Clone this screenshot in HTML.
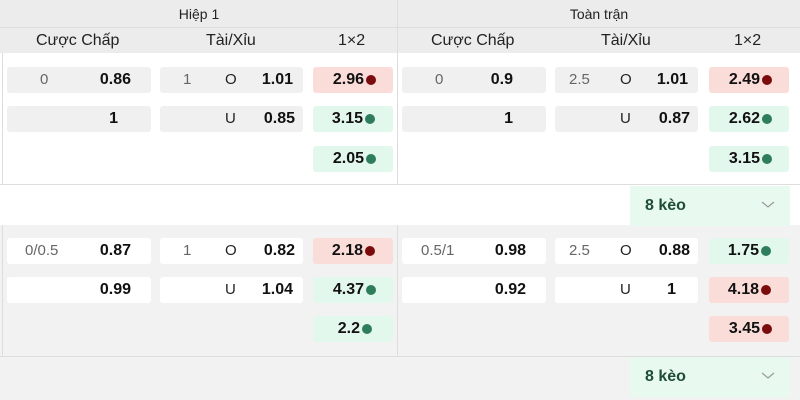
<!DOCTYPE html><html><head><meta charset="utf-8"><style>
body{margin:0;width:800px;height:400px;position:relative;background:#fff;font-family:"Liberation Sans","DejaVu Sans",sans-serif;overflow:hidden}
div{position:absolute;box-sizing:border-box}
.t{font-size:15px;color:#222;white-space:nowrap;line-height:26px}
.b{font-weight:bold;color:#111;font-size:16px}
.l{color:#666}
.bx{height:26px;border-radius:3px}
.g{background:#f0f0f0}.w{background:#fff}
.red{background:#fadcd9}.grn{background:#e3f8ec}
.dot{width:10px;height:10px;border-radius:5px;top:8px}
.dr{background:#7a0c0c}.dg{background:#2e7d5b}
svg{position:absolute}
</style></head><body>
<div style="left:0;top:0;width:800px;height:53px;background:#ececec"></div>
<div style="left:0;top:27px;width:800px;height:1px;background:#ddd"></div>
<div style="left:397px;top:0;width:1px;height:185px;background:#ddd"></div>
<div style="left:2px;top:53px;width:1px;height:132px;background:#ddd"></div>
<div style="left:0;top:184px;width:800px;height:1px;background:#ddd"></div>
<div class="t" style="left:0;width:398px;text-align:center;top:1px;font-size:14px">Hiệp 1</div>
<div class="t" style="left:398px;width:402px;text-align:center;top:1px;font-size:14px">Toàn trận</div>
<div class="t" style="left:36px;top:28px;font-size:16px">Cược Chấp</div>
<div class="t" style="left:206px;top:28px;font-size:16px">Tài/Xỉu</div>
<div class="t" style="left:338px;top:28px;font-size:16px">1×2</div>
<div class="t" style="left:431px;top:28px;font-size:16px">Cược Chấp</div>
<div class="t" style="left:601px;top:28px;font-size:16px">Tài/Xỉu</div>
<div class="t" style="left:734px;top:28px;font-size:16px">1×2</div>

<div style="left:0;top:225px;width:800px;height:175px;background:#f2f2f2"></div>
<div style="left:0;top:356px;width:800px;height:1px;background:#ddd"></div>
<div style="left:397px;top:225px;width:1px;height:131px;background:#ddd"></div>
<div style="left:2px;top:225px;width:1px;height:131px;background:#ddd"></div>

<div style="left:630px;top:186px;width:160px;height:40px;background:#e8f9ef"></div>
<div class="t b" style="left:645px;top:193px;color:#1e4d35">8 kèo</div>
<svg style="left:761px;top:200px" width="14" height="10"><polyline points="1,2 7,7 13,2" fill="none" stroke="#999" stroke-width="1.2"/></svg>
<div style="left:630px;top:357px;width:160px;height:40px;background:#e8f9ef"></div>
<div class="t b" style="left:645px;top:364px;color:#1e4d35">8 kèo</div>
<svg style="left:761px;top:371px" width="14" height="10"><polyline points="1,2 7,7 13,2" fill="none" stroke="#999" stroke-width="1.2"/></svg>

<!-- section 1 left -->
<div class="bx g" style="left:7px;top:67px;width:144px"></div>
<div class="t l" style="left:40px;top:67px">0</div>
<div class="t b" style="left:60px;width:71px;text-align:right;top:67px">0.86</div>
<div class="bx g" style="left:7px;top:106px;width:144px"></div>
<div class="t b" style="left:60px;width:58px;text-align:right;top:106px">1</div>
<div class="bx g" style="left:160px;top:67px;width:143px"></div>
<div class="t l" style="left:183px;top:67px">1</div>
<div class="t" style="left:225px;top:67px">O</div>
<div class="t b" style="left:240px;width:53px;text-align:right;top:67px">1.01</div>
<div class="bx g" style="left:160px;top:106px;width:143px"></div>
<div class="t" style="left:225px;top:106px">U</div>
<div class="t b" style="left:240px;width:55px;text-align:right;top:106px">0.85</div>
<div class="bx red" style="left:313px;top:67px;width:80px"></div>
<div class="t b" style="left:313px;width:51px;text-align:right;top:67px">2.96</div><div class="dot dr" style="left:366px;top:75px"></div>
<div class="bx grn" style="left:313px;top:106px;width:80px"></div>
<div class="t b" style="left:313px;width:50px;text-align:right;top:106px">3.15</div><div class="dot dg" style="left:365px;top:114px"></div>
<div class="bx grn" style="left:313px;top:146px;width:80px"></div>
<div class="t b" style="left:313px;width:51px;text-align:right;top:146px">2.05</div><div class="dot dg" style="left:366px;top:154px"></div>

<!-- section 1 right -->
<div class="bx g" style="left:402px;top:67px;width:144px"></div>
<div class="t l" style="left:435px;top:67px">0</div>
<div class="t b" style="left:455px;width:58px;text-align:right;top:67px">0.9</div>
<div class="bx g" style="left:402px;top:106px;width:144px"></div>
<div class="t b" style="left:455px;width:58px;text-align:right;top:106px">1</div>
<div class="bx g" style="left:555px;top:67px;width:143px"></div>
<div class="t l" style="left:569px;top:67px">2.5</div>
<div class="t" style="left:620px;top:67px">O</div>
<div class="t b" style="left:635px;width:53px;text-align:right;top:67px">1.01</div>
<div class="bx g" style="left:555px;top:106px;width:143px"></div>
<div class="t" style="left:620px;top:106px">U</div>
<div class="t b" style="left:635px;width:55px;text-align:right;top:106px">0.87</div>
<div class="bx red" style="left:709px;top:67px;width:80px"></div>
<div class="t b" style="left:709px;width:51px;text-align:right;top:67px">2.49</div><div class="dot dr" style="left:762px;top:75px"></div>
<div class="bx grn" style="left:709px;top:106px;width:80px"></div>
<div class="t b" style="left:709px;width:51px;text-align:right;top:106px">2.62</div><div class="dot dg" style="left:762px;top:114px"></div>
<div class="bx grn" style="left:709px;top:146px;width:80px"></div>
<div class="t b" style="left:709px;width:51px;text-align:right;top:146px">3.15</div><div class="dot dg" style="left:762px;top:154px"></div>

<!-- section 2 left -->
<div class="bx w" style="left:7px;top:238px;width:144px"></div>
<div class="t l" style="left:25px;top:238px">0/0.5</div>
<div class="t b" style="left:60px;width:71px;text-align:right;top:238px">0.87</div>
<div class="bx w" style="left:7px;top:277px;width:144px"></div>
<div class="t b" style="left:60px;width:71px;text-align:right;top:277px">0.99</div>
<div class="bx w" style="left:160px;top:238px;width:143px"></div>
<div class="t l" style="left:183px;top:238px">1</div>
<div class="t" style="left:225px;top:238px">O</div>
<div class="t b" style="left:240px;width:55px;text-align:right;top:238px">0.82</div>
<div class="bx w" style="left:160px;top:277px;width:143px"></div>
<div class="t" style="left:225px;top:277px">U</div>
<div class="t b" style="left:240px;width:53px;text-align:right;top:277px">1.04</div>
<div class="bx red" style="left:313px;top:238px;width:80px"></div>
<div class="t b" style="left:313px;width:50px;text-align:right;top:238px">2.18</div><div class="dot dr" style="left:365px;top:246px"></div>
<div class="bx grn" style="left:313px;top:277px;width:80px"></div>
<div class="t b" style="left:313px;width:51px;text-align:right;top:277px">4.37</div><div class="dot dg" style="left:366px;top:285px"></div>
<div class="bx grn" style="left:313px;top:316px;width:80px"></div>
<div class="t b" style="left:313px;width:47px;text-align:right;top:316px">2.2</div><div class="dot dg" style="left:362px;top:324px"></div>

<!-- section 2 right -->
<div class="bx w" style="left:402px;top:238px;width:144px"></div>
<div class="t l" style="left:421px;top:238px">0.5/1</div>
<div class="t b" style="left:455px;width:71px;text-align:right;top:238px">0.98</div>
<div class="bx w" style="left:402px;top:277px;width:144px"></div>
<div class="t b" style="left:455px;width:71px;text-align:right;top:277px">0.92</div>
<div class="bx w" style="left:555px;top:238px;width:143px"></div>
<div class="t l" style="left:569px;top:238px">2.5</div>
<div class="t" style="left:620px;top:238px">O</div>
<div class="t b" style="left:635px;width:55px;text-align:right;top:238px">0.88</div>
<div class="bx w" style="left:555px;top:277px;width:143px"></div>
<div class="t" style="left:620px;top:277px">U</div>
<div class="t b" style="left:635px;width:41px;text-align:right;top:277px">1</div>
<div class="bx grn" style="left:709px;top:238px;width:80px"></div>
<div class="t b" style="left:709px;width:50px;text-align:right;top:238px">1.75</div><div class="dot dg" style="left:761px;top:246px"></div>
<div class="bx red" style="left:709px;top:277px;width:80px"></div>
<div class="t b" style="left:709px;width:50px;text-align:right;top:277px">4.18</div><div class="dot dr" style="left:761px;top:285px"></div>
<div class="bx red" style="left:709px;top:316px;width:80px"></div>
<div class="t b" style="left:709px;width:51px;text-align:right;top:316px">3.45</div><div class="dot dr" style="left:762px;top:324px"></div>
</body></html>
